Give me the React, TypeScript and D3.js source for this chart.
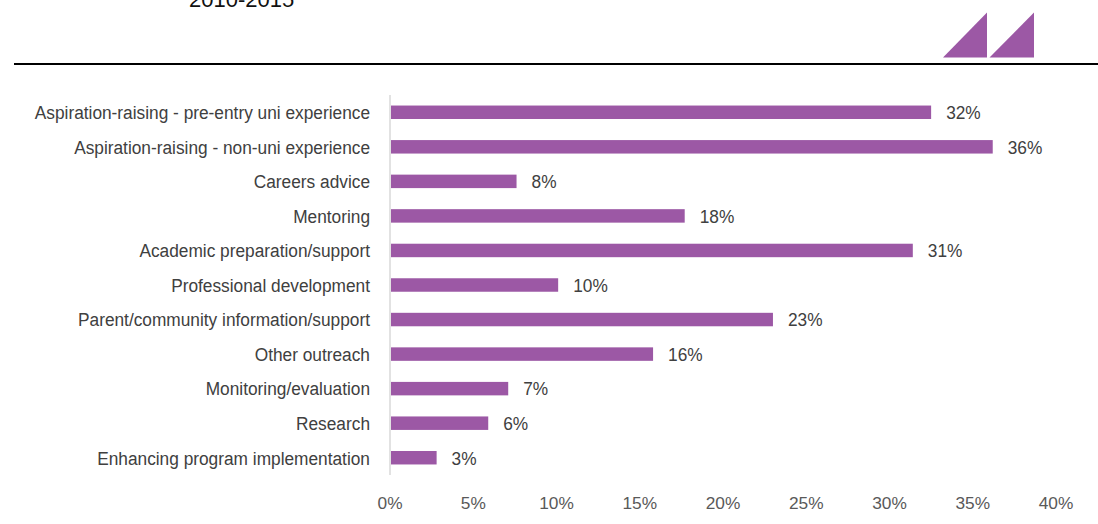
import React from "react";
import * as d3 from "d3";

const categories: string[] = [
  "Aspiration-raising - pre-entry uni experience",
  "Aspiration-raising - non-uni experience",
  "Careers advice",
  "Mentoring",
  "Academic preparation/support",
  "Professional development",
  "Parent/community information/support",
  "Other outreach",
  "Monitoring/evaluation",
  "Research",
  "Enhancing program implementation",
];
const values: number[] = [32.5, 36.2, 7.6, 17.7, 31.4, 10.1, 23.0, 15.8, 7.1, 5.9, 2.8];
const valueLabels: string[] = ["32%", "36%", "8%", "18%", "31%", "10%", "23%", "16%", "7%", "6%", "3%"];
const ticks: number[] = [0, 5, 10, 15, 20, 25, 30, 35, 40];

const W = 1098;
const H = 524;
const PURPLE = "#9c58a5";
const FONT = "'Liberation Sans', Arial, sans-serif";
const FS = 19;
const SX = 0.91;

export default function App() {
  const x = d3.scaleLinear().domain([0, 40]).range([390, 1056]);
  const y = d3.scaleBand<string>().domain(categories).range([95, 475]).paddingInner(0.61).paddingOuter(0.305);
  const tri = d3.line<[number, number]>();
  const t1: [number, number][] = [[943, 57.5], [987, 12.5], [987, 57.5]];
  const t2: [number, number][] = [[989.5, 57.5], [1034, 12.5], [1034, 57.5]];
  return (
    <svg width={W} height={H} style={{ position: "absolute", left: 0, top: 0, fontFamily: FONT }}>
      <rect width={W} height={H} fill="#fff" />
      <text x={189} y={7} fontSize={22} fill="#111">2010-2015</text>
      <path d={tri(t1) + "Z"} fill={PURPLE} />
      <path d={tri(t2) + "Z"} fill={PURPLE} />
      <line x1={14} x2={W} y1={64} y2={64} stroke="#000" strokeWidth={2} />
      {categories.map((c, i) => {
        const cy = y(c)! + y.bandwidth() / 2;
        return (
          <g key={c}>
            <rect x={x(0) + 1} y={y(c)!} width={x(values[i]) - x(0) - 1} height={y.bandwidth()} fill={PURPLE} />
            <g transform={`translate(370,${cy}) scale(${SX},1)`}>
              <text dy="0.36em" textAnchor="end" fontSize={FS} fill="#404040">{c}</text>
            </g>
            <g transform={`translate(${x(values[i]) + 15},${cy}) scale(${SX},1)`}>
              <text dy="0.36em" fontSize={FS} fill="#404040">{valueLabels[i]}</text>
            </g>
          </g>
        );
      })}
      <line x1={x(0)} x2={x(0)} y1={95} y2={475} stroke="#d9d9d9" strokeWidth={1.5} />
      {ticks.map((t) => (
        <text key={t} x={x(t)} y={509} textAnchor="middle" fontSize={17.3} fill="#595959">{t}%</text>
      ))}
    </svg>
  );
}
